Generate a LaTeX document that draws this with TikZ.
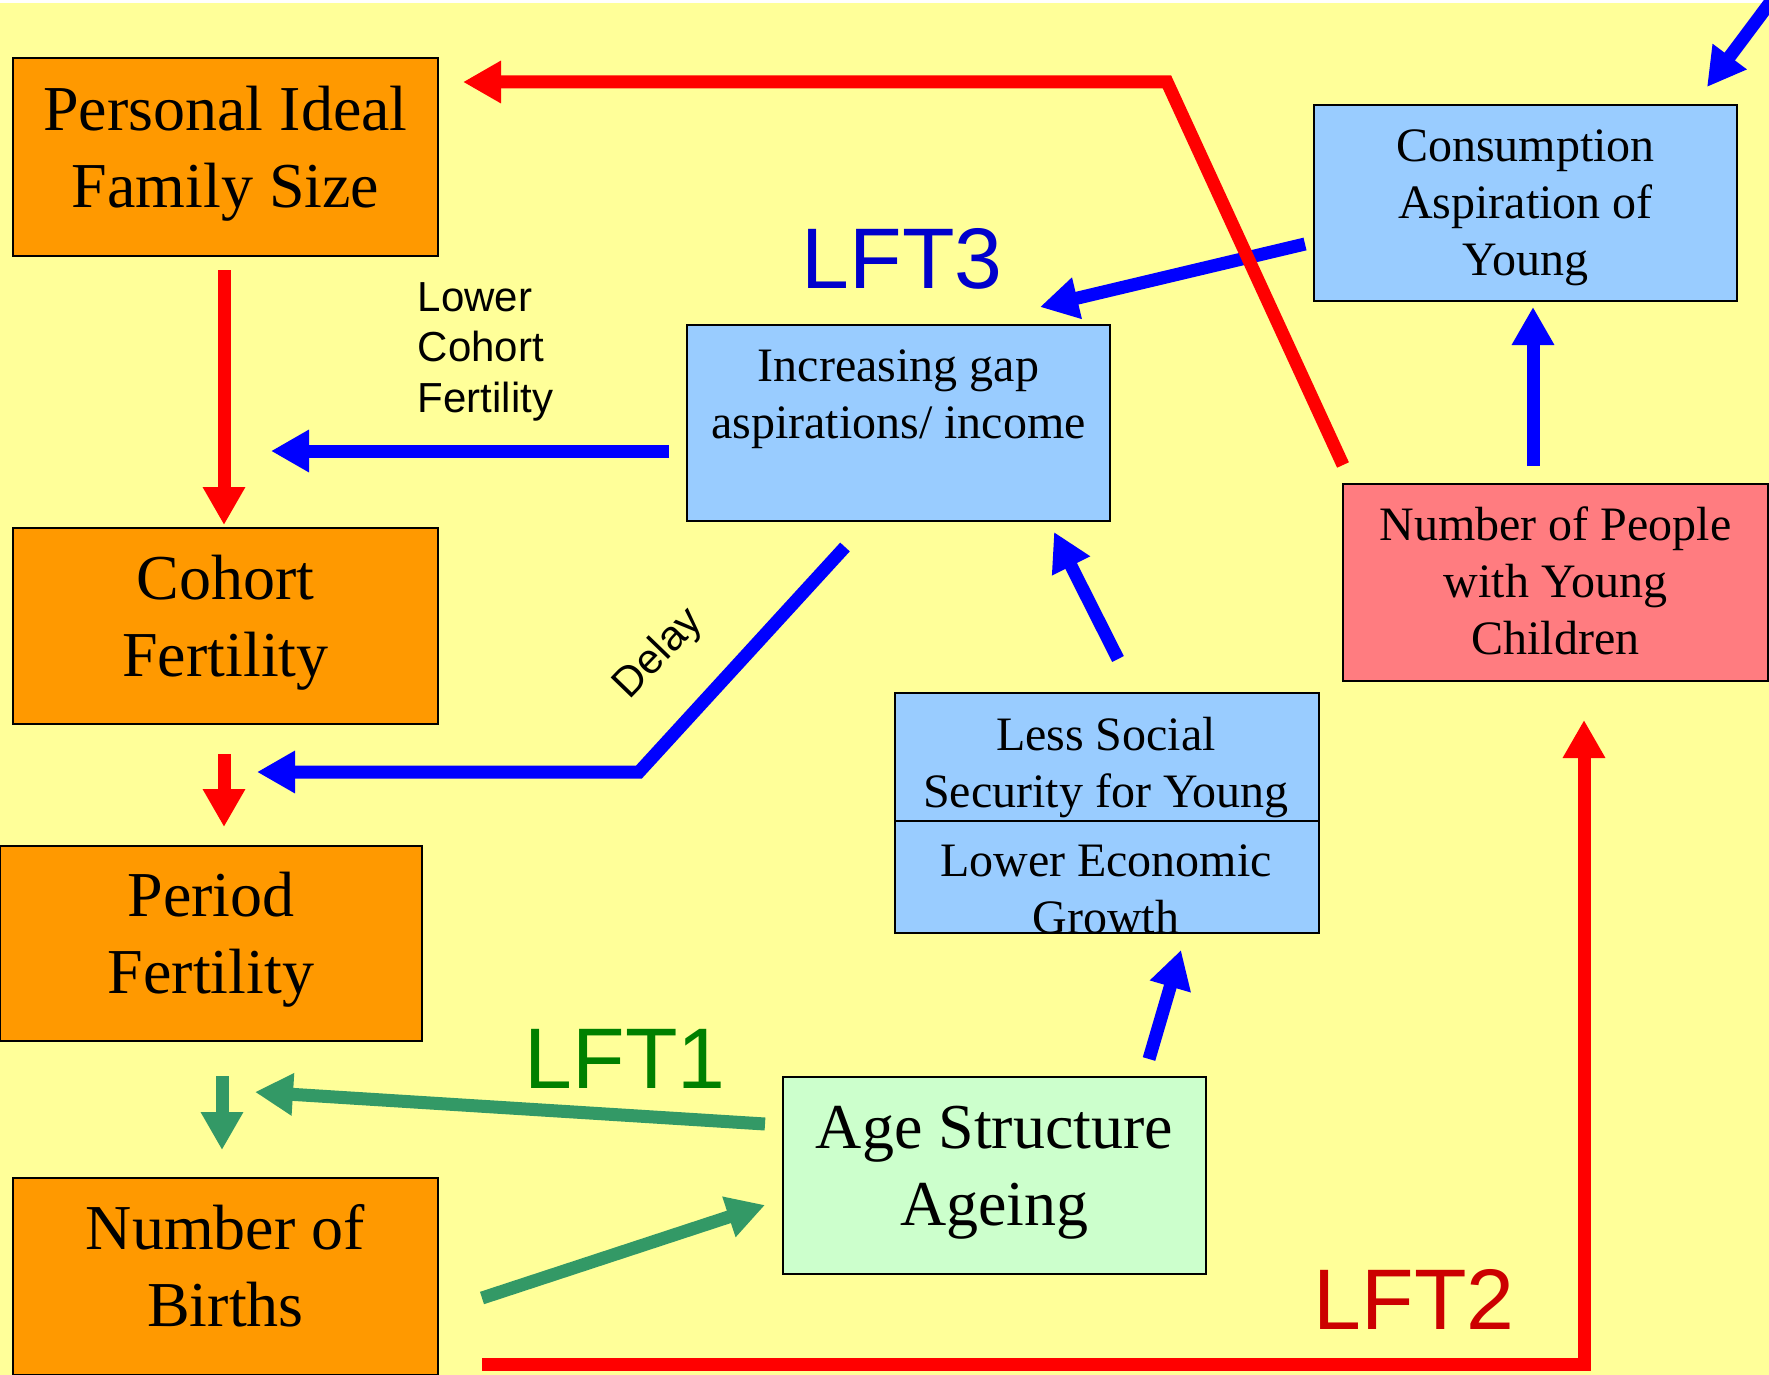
\documentclass[tikz,border=0pt]{standalone}
\usepackage{fontspec}
\setmainfont{Liberation Serif}
\newfontfamily\lblfont{Liberation Sans}
\usetikzlibrary{arrows.meta}

\definecolor{bgyellow}{HTML}{FFFF99}
\definecolor{boxorange}{HTML}{FF9900}
\definecolor{boxblue}{HTML}{99CCFF}
\definecolor{boxred}{HTML}{FF7C80}
\definecolor{boxgreen}{HTML}{CCFFCC}
\definecolor{arrred}{HTML}{FF0000}
\definecolor{arrblue}{HTML}{0000FF}
\definecolor{arrgreen}{HTML}{339966}
\definecolor{lftgreen}{HTML}{008000}
\definecolor{lftred}{HTML}{CC0000}
\definecolor{lftblue}{HTML}{0000CC}

% struts that fix the height of the first line and the depth of the last line
\newcommand\firstO{\rule{0pt}{0.69em}}
\newcommand\lastO{\rule[-0.33em]{0pt}{0.33em}}
\newcommand\firstB{\rule{0pt}{0.85em}}
\newcommand\lastL{\rule[-0.22em]{0pt}{0.22em}}

\begin{document}
\begin{tikzpicture}[x=1pt,y=-1pt,
  box/.style={draw=black, line width=2pt, inner sep=0pt, align=center, anchor=north west},
  obox/.style={box, fill=boxorange, font=\fontsize{64}{77}\selectfont},
  bbox/.style={box, fill=boxblue, font=\fontsize{48}{57}\selectfont},
  rbox/.style={box, fill=boxred, font=\fontsize{48}{57}\selectfont},
  gbox/.style={box, fill=boxgreen, font=\fontsize{64}{77}\selectfont},
  btext/.style={inner sep=0pt, align=center, font=\fontsize{48}{57}\selectfont},
  lft/.style={inner sep=0pt, anchor=base, font=\lblfont\fontsize{86}{100}\selectfont},
  note/.style={inner sep=0pt, font=\lblfont\fontsize{42}{50.5}\selectfont},
  tipshape/.style={-{Triangle[length=38pt,width=40pt]}},
  ra/.style={draw=arrred, line width=13pt, tipshape},
  ba/.style={draw=arrblue, line width=13pt, tipshape},
  ga/.style={draw=arrgreen, line width=13pt, tipshape}]

\useasboundingbox (0,0) rectangle (1769,1375);
\clip (0,0) rectangle (1769,1375);

% background
\fill[white] (0,0) rectangle (1769,1375);
\fill[bgyellow] (0,3) rectangle (1769,1375);

% left column
\node[obox, minimum width=425, minimum height=198] (pifs) at (12,57) {\firstO Personal Ideal\\Family Size\lastO};
\node[obox, minimum width=425, minimum height=196] (cf) at (12,527) {\firstO Cohort\\Fertility\lastO};
\node[obox, minimum width=422, minimum height=195] (pf) at (-1,845) {\firstO Period\\Fertility\lastO};
\node[obox, minimum width=425, minimum height=197] (nb) at (12,1177) {\firstO Number of\\Births\lastO};

% middle and right
\node[bbox, minimum width=423, minimum height=196] (gap) at (686,324) {\firstB Increasing gap\\aspirations/ income\\\lastL};
\node[bbox, minimum width=423, minimum height=196] (cons) at (1313,104) {\firstB Consumption\\Aspiration of\\Young\lastL};
\node[rbox, minimum width=425, minimum height=197] (npeople) at (1342,483) {\firstB Number of People\\with Young\\Children\lastL};
\node[bbox, minimum width=424, minimum height=128] (ls) at (894,692) {};
\node[bbox, minimum width=424, minimum height=112] (eg) at (894,820) {};
\node[btext, anchor=north] (lstxt) at (1106,709) {\firstB Less Social\\Security for Young};
\node[btext, anchor=north] (egtxt) at (1106,835.5) {\firstB Lower Economic\\Growth};
\node[gbox, minimum width=423, minimum height=197] (age) at (782,1076) {\firstO Age Structure\\Ageing\lastO};

% labels
\node[lft, text=lftblue] (lft3) at (902,288) {LFT3};
\node[lft, text=lftgreen] (lft1) at (625,1088) {LFT1};
\node[lft, text=lftred] (lft2) at (1414,1329) {LFT2};
\node[note, anchor=north west, align=left] (lcf) at (417.5,282) {Lower\\Cohort\\Fertility};
\node[note, rotate=46] (delay) at (659,654) {Delay};

% connector end points
\coordinate (pifsOut) at (224,270);
\coordinate (cfIn) at (224,525);
\coordinate (cfOut) at (224,754);
\coordinate (pfIn) at (224,827);
\coordinate (pfOut) at (222,1076);
\coordinate (nbIn) at (222,1150);
\coordinate (gapOutL) at (669,451);
\coordinate (cfInR) at (271,451);
\coordinate (gapOutB) at (845,547);
\coordinate (delayBend) at (639,772);
\coordinate (pfInR) at (257,772);
\coordinate (consOut) at (1305,244);
\coordinate (gapInT) at (1040,307);
\coordinate (npOutT) at (1533,466);
\coordinate (consIn) at (1533,307);
\coordinate (lsOut) at (1118,659);
\coordinate (gapInB) at (1054,532);
\coordinate (ageOutT) at (1149,1059);
\coordinate (egIn) at (1181,950);
\coordinate (edgeIn) at (1772,0);
\coordinate (consInT) at (1707,87);
\coordinate (ageOutL) at (765,1124);
\coordinate (pfBelow) at (255,1092);
\coordinate (nbOut) at (482,1298);
\coordinate (ageIn) at (765,1205);
\coordinate (nbOutB) at (482,1364);
\coordinate (lftCorner) at (1584,1364);
\coordinate (npIn) at (1584,720);
\coordinate (npOutL) at (1343,465);
\coordinate (topBend) at (1167,82);
\coordinate (pifsIn) at (463,82);

% connectors
\draw[ra] (pifsOut) -- (cfIn);
\draw[ra] (cfOut) -- (pfIn);
\draw[ga] (pfOut) -- (nbIn);
\draw[ba] (gapOutL) -- (cfInR);
\draw[ba, line join=miter] (gapOutB) -- (delayBend) -- (pfInR);
\draw[ba] (consOut) -- (gapInT);
\draw[ba] (npOutT) -- (consIn);
\draw[ba] (lsOut) -- (gapInB);
\draw[ba] (ageOutT) -- (egIn);
\draw[ba] (edgeIn) -- (consInT);
\draw[ga] (ageOutL) -- (pfBelow);
\draw[ga] (nbOut) -- (ageIn);
\draw[ra, line join=miter] (nbOutB) -- (lftCorner) -- (npIn);
\draw[ra, line join=miter] (npOutL) -- (topBend) -- (pifsIn);

\end{tikzpicture}
\end{document}
